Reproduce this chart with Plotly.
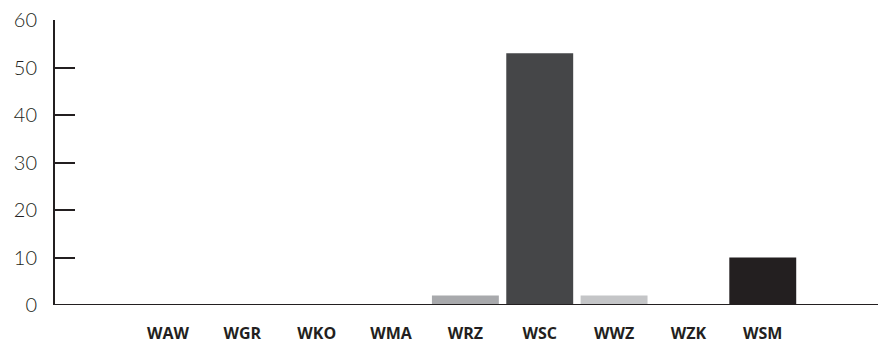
import plotly.graph_objects as go

categories = ["WAW", "WGR", "WKO", "WMA", "WRZ", "WSC", "WWZ", "WZK", "WSM"]
values = [0, 0, 0, 0, 2, 53, 2, 0, 10]
colors = ["#a8a9ac", "#a8a9ac", "#a8a9ac", "#a8a9ac", "#a8a9ac", "#454648", "#c4c5c7", "#a8a9ac", "#231f20"]
y_ticks = [0, 10, 20, 30, 40, 50, 60]

fig = go.Figure(go.Bar(
    x=categories, y=values, marker=dict(color=colors, line=dict(width=0)),
    width=0.9,
))

fig.update_layout(
    width=878, height=343,
    margin=dict(l=55, r=0, t=20, b=38, autoexpand=False),
    paper_bgcolor="white", plot_bgcolor="white",
    showlegend=False,
    xaxis=dict(
        range=[-1.52, 9.55], showgrid=False, zeroline=False, automargin=False,
        showline=False, ticks="",
        tickfont=dict(family="Open Sans", size=16, color="#231f20", weight="bold"),
        ticklabelstandoff=17,
    ),
    yaxis=dict(
        range=[0, 60], tickvals=y_ticks, showgrid=False, zeroline=False, automargin=False,
        showline=True, linecolor="#231f20", linewidth=2,
        ticks="inside", ticklen=20, tickwidth=2, tickcolor="#231f20",
        tickfont=dict(family="Lato", size=20, color="#231f20", weight=300),
        ticklabelstandoff=12,
    ),
    shapes=[dict(type="line", xref="paper", yref="y", x0=0, x1=1, y0=0, y1=0,
                 line=dict(color="#231f20", width=2))],
)

fig.write_html("out.html", config={"displayModeBar": False},
               post_script="document.body.style.margin='0px';")
